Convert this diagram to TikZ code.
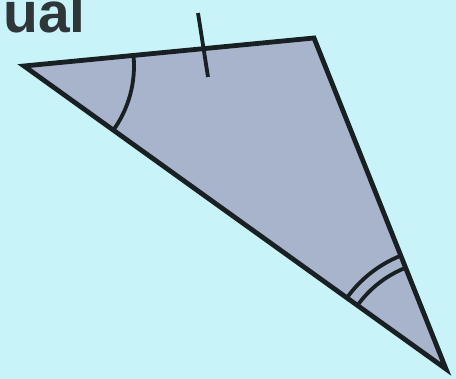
\documentclass[tikz,border=0pt]{standalone}
\usepackage{fontspec}
\setmainfont{Liberation Sans}
\usepackage{xcolor}
\definecolor{skyBg}{RGB}{200, 244, 249}
\definecolor{triFill}{RGB}{168, 179, 204}
\definecolor{inkDark}{RGB}{24, 32, 36}
\usetikzlibrary{calc}

\begin{document}
\begin{tikzpicture}[
  x=1pt, y=1pt,
  edge/.style={draw=inkDark, line width=4.8pt, line join=miter},
  tickmark/.style={draw=inkDark, line width=3.8pt},
  lab/.style={font=\fontsize{57}{57}\selectfont\bfseries, text=inkDark!90, inner sep=0pt}
]
\useasboundingbox[fill=skyBg] (0,0) rectangle (456,379);

%% vertices
\coordinate (A) at (24,313);
\coordinate (B) at (314,341);
\coordinate (C) at (446,10);

%% triangle
\filldraw[edge, fill=triFill] (A) -- (B) -- (C) -- cycle;

%% equal side tick
\coordinate (t1) at (198,366);
\coordinate (t2) at (208,302);
\draw[tickmark] (t1) -- (t2);

%% single angle arc at A
\draw[tickmark] (A) ++(5.5:110) arc[start angle=5.5, end angle=-35.6, radius=110];

%% double angle arc at C
\draw[tickmark] (C) ++(111.9:122) arc[start angle=111.9, end angle=144.4, radius=122];
\draw[tickmark] (C) ++(111.9:109) arc[start angle=111.9, end angle=144.4, radius=109];

%% cut off word
\node[lab, anchor=base west] (word) at (3,346) {ual};
\end{tikzpicture}
\end{document}
